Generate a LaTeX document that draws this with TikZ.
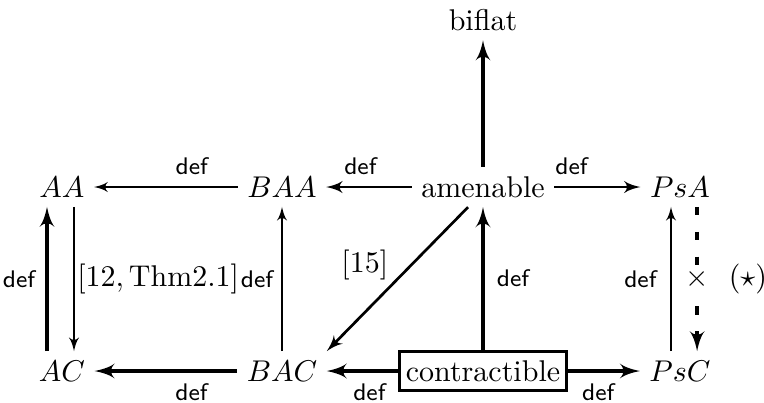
\documentclass[tikz,border=0pt]{standalone}
\usetikzlibrary{arrows, positioning}

\begin{document}
\begin{tikzpicture}[
    x=0.3333pt, y=-0.3333pt,
    obj/.style={inner sep=3pt},
    boxed/.style={obj, draw, line width=0.9pt, inner xsep=2.2pt, inner ysep=3pt},
    lbl/.style={font=\sffamily\footnotesize, inner sep=2pt},
    line/.style={draw, -latex'},
    thinline/.style={line, line width=0.6pt},
    midline/.style={line, line width=0.9pt},
    thickline/.style={line, line width=1.3pt},
    dashline/.style={thickline, dash pattern=on 2.7pt off 5.6pt}
]
    \useasboundingbox (0,0) rectangle (764,402);

    % Objects
    \node [obj] (biflat) at (483,20) {biflat};
    \node [obj] (AA) at (62,187) {$AA$};
    \node [obj] (BAA) at (282,187) {$BAA$};
    \node [obj] (amenable) at (483,187) {amenable};
    \node [obj] (PsA) at (680,187) {$PsA$};
    \node [obj] (AC) at (62,371) {$AC$};
    \node [obj] (BAC) at (282,371) {$BAC$};
    \node [boxed] (contractible) at (483,371) {contractible};
    \node [obj] (PsC) at (680,371) {$PsC$};

    % Top row
    \path [thickline] (amenable) -- (biflat);
    \path [thinline] (BAA) -- node[lbl, above=1.7pt, pos=0.32] {def} (AA);
    \path [midline] (amenable) -- node[lbl, above=1.7pt, pos=0.6] {def} (BAA);
    \path [midline] (amenable) -- node[lbl, above=1.7pt, pos=0.2] {def} (PsA);

    % Bottom row
    \path [thickline] (BAC) -- node[lbl, below=1.5pt, pos=0.32] {def} (AC);
    \path [thickline] (contractible) -- node[lbl, below=1.5pt, pos=0.4] {def} (BAC);
    \path [thickline] (contractible) -- node[lbl, below=1.5pt, pos=0.42] {def} (PsC);

    % Columns
    \path [thickline] ([xshift=-5pt]AC.north) -- node[lbl, left=1.3pt] {def} ([xshift=-5pt]AA.south);
    \path [thinline] ([xshift=4pt]AA.south) -- node[right=0pt, inner xsep=0.8pt] {$[12,\mathrm{Thm}2.1]$} ([xshift=4pt]AC.north);
    \path [thinline] (BAC) -- node[lbl, left=0.6pt] {def} (BAA);
    \path [thickline] (contractible) -- node[lbl, right=2pt] {def} (amenable);
    \path [thinline] ([xshift=-3pt]PsC.north) -- node[lbl, left=2.5pt] {def} ([xshift=-3pt]PsA.south);
    \path [dashline] ([xshift=5.7pt]PsA.south) -- node[fill=white, inner sep=1pt] (cross) {$\times$} ([xshift=5.7pt]PsC.north);
    \node [right=1.5pt of cross] (star) {$(\star)$};

    % Diagonal
    \path [midline] ([xshift=-5pt]amenable.south) -- node[left=4pt, pos=0.4] {$[15]$} (BAC.north east);

\end{tikzpicture}
\end{document}
